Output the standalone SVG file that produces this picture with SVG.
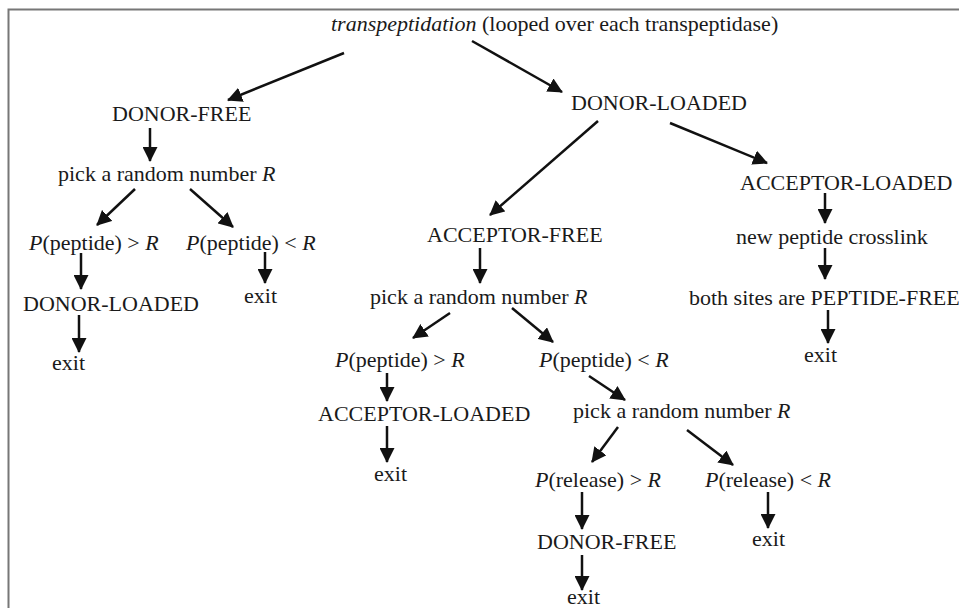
<svg xmlns="http://www.w3.org/2000/svg" width="959" height="608" viewBox="0 0 959 608">
<style>
text{font-family:"Liberation Serif","Times New Roman",serif;font-size:22px;fill:#1a1a1a}
.i{font-style:italic}
.c line{stroke:#111;stroke-width:2.5;marker-end:url(#ah)}
</style>
<defs>
<marker id="ah" markerUnits="userSpaceOnUse" markerWidth="15" markerHeight="15" viewBox="0 0 15 15" refX="14" refY="7.5" orient="auto">
<path d="M0,0 L15,7.5 L0,15 z" fill="#111"/>
</marker>
</defs>
<rect width="959" height="608" fill="#fff"/>
<path d="M8.5,620 V9.5 H970" fill="none" stroke="#777" stroke-width="2"/>
<g id="root"><text x="331" y="31"><tspan class="i">transpeptidation</tspan> (looped over each transpeptidase)</text></g>
<g id="dfree"><text x="112" y="121">DONOR-FREE</text></g>
<g id="dloaded"><text x="571" y="110">DONOR-LOADED</text></g>
<g id="pick1"><text x="58" y="181">pick a random number <tspan class="i">R</tspan></text></g>
<g id="pgt1"><text x="29" y="250"><tspan class="i">P</tspan>(peptide) &gt; <tspan class="i">R</tspan></text></g>
<g id="plt1"><text x="186" y="250"><tspan class="i">P</tspan>(peptide) &lt; <tspan class="i">R</tspan></text></g>
<g id="dloaded2"><text x="23" y="311">DONOR-LOADED</text></g>
<g id="exit1"><text x="52" y="370">exit</text></g>
<g id="exit2"><text x="244" y="303">exit</text></g>
<g id="afree"><text x="427" y="242">ACCEPTOR-FREE</text></g>
<g id="pick2"><text x="370" y="304">pick a random number <tspan class="i">R</tspan></text></g>
<g id="aloaded1"><text x="740" y="190">ACCEPTOR-LOADED</text></g>
<g id="crosslink"><text x="736" y="244">new peptide crosslink</text></g>
<g id="both"><text x="689" y="305">both sites are PEPTIDE-FREE</text></g>
<g id="exit3"><text x="804" y="362">exit</text></g>
<g id="pgt2"><text x="335" y="367"><tspan class="i">P</tspan>(peptide) &gt; <tspan class="i">R</tspan></text></g>
<g id="plt2"><text x="539" y="367"><tspan class="i">P</tspan>(peptide) &lt; <tspan class="i">R</tspan></text></g>
<g id="aloaded2"><text x="318" y="421">ACCEPTOR-LOADED</text></g>
<g id="exit4"><text x="374" y="481">exit</text></g>
<g id="pick3"><text x="573" y="418">pick a random number <tspan class="i">R</tspan></text></g>
<g id="rgt"><text x="535" y="487"><tspan class="i">P</tspan>(release) &gt; <tspan class="i">R</tspan></text></g>
<g id="rlt"><text x="705" y="487"><tspan class="i">P</tspan>(release) &lt; <tspan class="i">R</tspan></text></g>
<g id="dfree2"><text x="537" y="549">DONOR-FREE</text></g>
<g id="exit5"><text x="567" y="604">exit</text></g>
<g id="exit6"><text x="752" y="546">exit</text></g>
<g class="c" id="connectors">
<line x1="344" y1="53" x2="228" y2="100"/>
<line x1="472" y1="41" x2="562" y2="92"/>
<line x1="150" y1="128" x2="150" y2="161"/>
<line x1="135" y1="189" x2="97" y2="225"/>
<line x1="190" y1="189" x2="233" y2="227"/>
<line x1="81" y1="253" x2="81" y2="289"/>
<line x1="79" y1="315" x2="79" y2="352"/>
<line x1="265" y1="252" x2="265" y2="283"/>
<line x1="598" y1="121" x2="490" y2="215"/>
<line x1="670" y1="123" x2="767" y2="163"/>
<line x1="825" y1="193" x2="825" y2="223"/>
<line x1="825" y1="248" x2="825" y2="279"/>
<line x1="828" y1="310" x2="828" y2="343"/>
<line x1="480" y1="248" x2="480" y2="283"/>
<line x1="450" y1="313" x2="413" y2="338"/>
<line x1="512" y1="308" x2="553" y2="342"/>
<line x1="387" y1="373" x2="387" y2="401"/>
<line x1="387" y1="426" x2="387" y2="462"/>
<line x1="589" y1="376" x2="625" y2="400"/>
<line x1="618" y1="427" x2="592" y2="462"/>
<line x1="687" y1="430" x2="733" y2="465"/>
<line x1="582" y1="492" x2="582" y2="529"/>
<line x1="582" y1="555" x2="582" y2="590"/>
<line x1="768" y1="492" x2="768" y2="528"/>
</g>
</svg>
